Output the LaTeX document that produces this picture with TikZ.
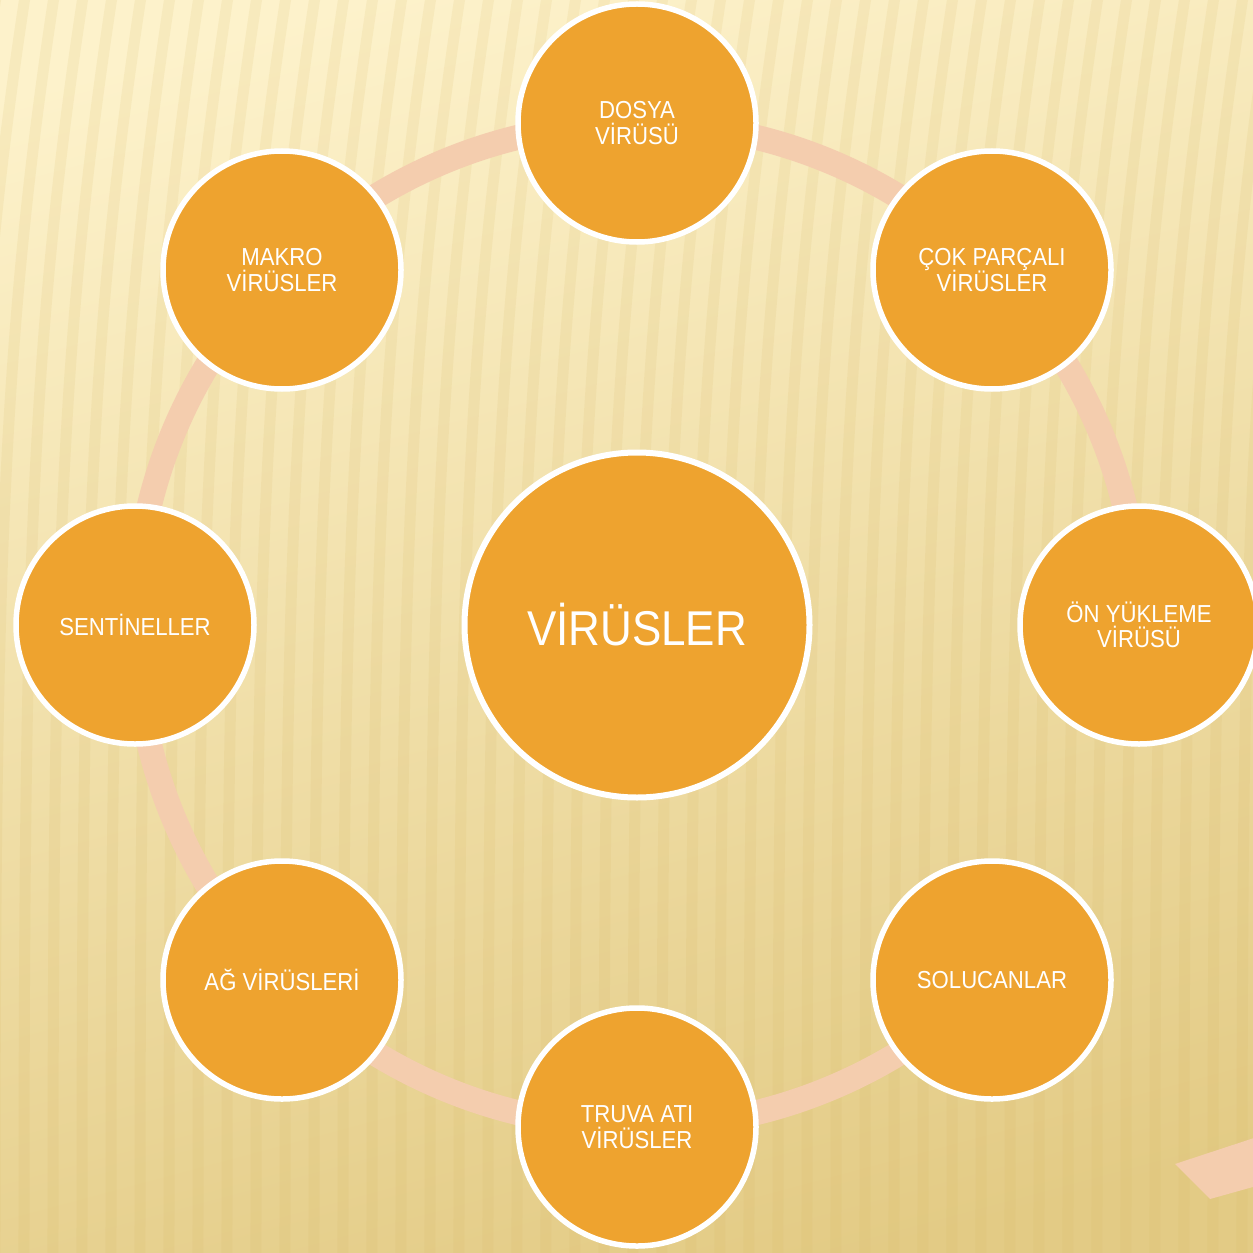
\documentclass[tikz,border=0pt]{standalone}
\usepackage{fontspec}
\setmainfont[FakeStretch=0.9]{Liberation Sans}
\usepackage{tikz}
\usetikzlibrary{calc, backgrounds}
\definecolor{virusFill}{HTML}{EEA32F}
\definecolor{virusRing}{HTML}{F4CDAE}
\definecolor{bgLight}{HTML}{FDF2CB}
\definecolor{bgMid}{HTML}{F9E8B4}
\definecolor{bgDark}{HTML}{E3CB85}
\definecolor{bgStripe}{HTML}{D6B560}
\newcommand{\tightlines}{\lineskiplimit=-10pt\relax}
\pgfdeclarelayer{backdrop}
\pgfsetlayers{backdrop,background,main}

\begin{document}
\begin{tikzpicture}[
  hub/.style={circle, draw=white, line width=0.6mm, fill=virusFill, text=white,
              minimum size=3.45cm, font=\fontsize{13.9}{15}\selectfont},
  spoke/.style={circle, draw=white, line width=0.55mm, fill=virusFill, text=white,
                minimum size=2.38cm, align=center, inner sep=0pt,
                font=\fontsize{7}{7.2}\selectfont\tightlines},
  ring/.style={draw=virusRing, line width=0.25cm},
  stripe/.style={draw=bgStripe, line width=1.1mm, opacity=0.13}
]
\useasboundingbox (0,0) rectangle (12.52,-12.53);

% backdrop: shaded sheet with soft vertical ribs
\begin{pgfonlayer}{backdrop}
  \shade[top color=bgLight, middle color=bgMid, bottom color=bgDark, shading angle=15]
    (-0.5,0.5) rectangle (13,-13);
  \foreach \x in {-1.5,-1.21,...,13.0}
    \draw[stripe] (\x,-12.6) .. controls (\x,-6) and (\x+0.05,-3.5) .. (\x+0.6,0.1);
  \fill[virusRing] (11.75,-11.64) -- (12.6,-11.36) -- (12.6,-11.85) -- (12.10,-11.99) -- cycle;
\end{pgfonlayer}

\node[hub] (virus) at (6.37,-6.25) {VİRÜSLER};

\node[spoke] (dosya) at (6.37,-1.23) {DOSYA\\VİRÜSÜ};
\node[spoke] (cok) at (9.92,-2.70) {ÇOK PARÇALI\\VİRÜSLER};
\node[spoke] (onyukleme) at (11.39,-6.25) {ÖN YÜKLEME\\VİRÜSÜ};
\node[spoke] (solucan) at (9.92,-9.80) {SOLUCANLAR};
\node[spoke] (truva) at (6.37,-11.27) {TRUVA ATI\\VİRÜSLER};
\node[spoke] (ag) at (2.82,-9.80) {AĞ VİRÜSLERİ};
\node[spoke] (sentinel) at (1.35,-6.25) {SENTİNELLER};
\node[spoke] (makro) at (2.82,-2.70) {MAKRO\\VİRÜSLER};

% ring segments behind the circles
\begin{scope}[on background layer]
  \draw[ring] (onyukleme.center) arc[start angle=0, end angle=45, radius=5.02];
  \draw[ring] (cok.center) arc[start angle=45, end angle=90, radius=5.02];
  \draw[ring] (dosya.center) arc[start angle=90, end angle=135, radius=5.02];
  \draw[ring] (makro.center) arc[start angle=135, end angle=180, radius=5.02];
  \draw[ring] (sentinel.center) arc[start angle=180, end angle=225, radius=5.02];
  \draw[ring] (ag.center) arc[start angle=225, end angle=270, radius=5.02];
  \draw[ring] (truva.center) arc[start angle=270, end angle=315, radius=5.02];
\end{scope}
\end{tikzpicture}
\end{document}
